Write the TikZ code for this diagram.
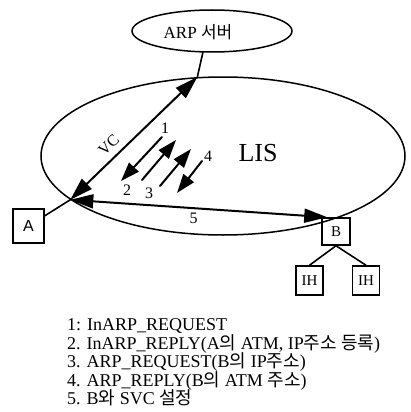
\documentclass[tikz,border=0pt]{standalone}
\usepackage{fontspec}
\setmainfont{Liberation Serif}
\newfontfamily\kr{Noto Sans CJK KR}
\newfontfamily\boxsans{Liberation Sans}
\usetikzlibrary{arrows.meta,shapes.geometric}

\begin{document}
\begin{tikzpicture}[x=1pt,y=-1pt,>={Triangle[length=23pt,width=14pt]},line cap=round,
  box/.style={draw,line width=1.5pt,inner sep=0pt,minimum width=28pt,minimum height=27pt,font=\fontsize{15}{15}\selectfont},
  ring/.style={draw,ellipse,line width=1.5pt,inner sep=0pt},
  wire/.style={line width=1.6pt},
  vcline/.style={<->,line width=2pt},
  msg/.style={->,line width=2pt,>={Triangle[length=19pt,width=13pt]}},
  num/.style={font=\fontsize{16}{16}\selectfont,inner sep=0pt},
  key/.style={anchor=base west,inner sep=0pt,font=\fontsize{18}{18}\selectfont}]
\useasboundingbox (0,0) rectangle (410,412);
% server and LIS
\node[ring,minimum width=160pt,minimum height=42pt] (server) at (212,31) {};
\node[font=\fontsize{17}{17}\selectfont] (servertext) at (198,32) {ARP {\kr 서버}};
\node[ring,minimum width=364pt,minimum height=158pt] (lis) at (223,156) {};
\node[font=\fontsize{26}{26}\selectfont] (listext) at (258,153) {LIS};
\coordinate (top) at (lis.108);
\coordinate (hub) at (lis.196);
% hosts
\node[box,minimum width=31pt,minimum height=34pt,font=\boxsans\fontsize{16}{16}\selectfont] (A) at (28.5,226) {A};
\node[box] (B) at (336,231.5) {B};
\node[box,minimum width=27pt,minimum height=29pt] (IH1) at (309.5,280.5) {IH};
\node[box,minimum width=27pt,minimum height=29pt] (IH2) at (366,280.5) {IH};
% links
\draw[wire] (server.247) -- (top);
\draw[vcline] (hub) -- node[pos=0.37,sloped,above=6pt,font=\fontsize{16}{16}\selectfont,inner sep=0pt] (vc) {VC} (top);
\draw[wire] (A) -- (hub);
\draw[vcline] (hub) -- node[pos=0.48,below=4pt,num] (n5) {5} ([xshift=6pt]B.north west);
\draw[wire] (B.south) -- (IH1.north);
\draw[wire] (B.south) -- (IH2.north);
% messages
\coordinate (s1) at (162,137);
\coordinate (e1) at (121,181);
\coordinate (s2) at (142,180);
\coordinate (e2) at (176,140);
\coordinate (s3) at (160,186);
\coordinate (e3) at (191,149);
\coordinate (s4) at (202,161);
\coordinate (e4) at (177,193);
\draw[msg] (s1) -- (e1);
\draw[msg] (s2) -- (e2);
\draw[msg] (s3) -- (e3);
\draw[msg] (s4) -- (e4);
\node[num] (n1) at (165,128) {1};
\node[num] (n2) at (127,190) {2};
\node[num] (n3) at (149,193) {3};
\node[num] (n4) at (208,156) {4};
% legend
\node[key] (k1) at (67,330) {1: InARP\_REQUEST};
\node[key] (k2) at (67,349) {2. InARP\_REPLY(A{\kr 의} ATM, IP{\kr 주소 등록})};
\node[key] (k3) at (67,367) {3. ARP\_REQUEST(B{\kr 의} IP{\kr 주소})};
\node[key] (k4) at (67,386) {4. ARP\_REPLY(B{\kr 의} ATM {\kr 주소})};
\node[key] (k5) at (67,404) {5. B{\kr 와} SVC {\kr 설정}};
\end{tikzpicture}
\end{document}
